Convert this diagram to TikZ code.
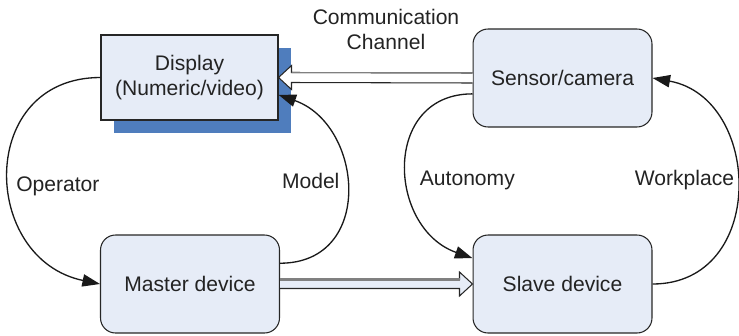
\documentclass[tikz,border=0pt]{standalone}
\usepackage{fontspec}
\setmainfont{Liberation Sans}
\usetikzlibrary{arrows.meta,calc,shadows}
\definecolor{boxfill}{RGB}{230,236,247}
\definecolor{shadowblue}{RGB}{79,125,189}
\definecolor{txtgray}{RGB}{35,35,35}
\tikzset{
  devbox/.style={draw=black!85, line width=0.6pt, fill=boxfill, rounded corners=0.3cm,
    minimum width=3.58cm, minimum height=1.96cm, text=txtgray, font=\fontsize{12}{14.2}\selectfont},
  dispbox/.style={devbox, rounded corners=0pt, minimum width=3.54cm, minimum height=1.7cm, align=center,
    drop shadow={shadow xshift=0.26cm, shadow yshift=-0.26cm, fill=shadowblue, opacity=1}},
  cyclearrow/.style={line width=0.75pt, black!90, -{Triangle[length=10pt,width=7pt]}},
  lbl/.style={text=txtgray, font=\fontsize{12}{14.2}\selectfont},
  hollow/.style={line width=0.6pt, draw=black!85}
}
\begin{document}
\begin{tikzpicture}[x=0.02cm, y=-0.02cm]
\useasboundingbox (0,0) rectangle (739,335);
\node[dispbox] (disp) at (189.5,77.5) {Display\\(Numeric/video)};
\node[devbox] (sensor) at (562.5,78) {Sensor/camera};
\node[devbox] (master) at (190,284) {Master device};
\node[devbox] (slave) at (562.5,284) {Slave device};
\node[lbl, align=center] (chan) at (386,29.5) {Communication\\Channel};

% communication channel
\filldraw[hollow, fill=white] ($(sensor.west)+(0,-5)$) -- ($(disp.east)+(13,-5)$) -- ($(disp.east)+(13,-12)$)
  -- (disp.east) -- ($(disp.east)+(13,12)$) -- ($(disp.east)+(13,5)$) -- ($(sensor.west)+(0,5)$);
\draw[hollow, draw=gray] ($(sensor.west)+(0,-5)$) -- ($(disp.east)+(13,-5)$);
\filldraw[hollow, fill=boxfill] ($(master.east)+(0,-4.5)$) -- ($(slave.west)+(-13,-4.5)$) -- ($(slave.west)+(-13,-12)$)
  -- (slave.west) -- ($(slave.west)+(-13,12)$) -- ($(slave.west)+(-13,4.5)$) -- ($(master.east)+(0,4.5)$);
\draw[line width=1.2pt, gray] ($(master.east)+(0,-4.5)$) -- ($(slave.west)+(-13,-4.5)$);

% loops
\draw[cyclearrow] (disp.west) .. controls +(-124,0) and +(-120,-25) .. (master.west)
  node[lbl, pos=0.55, right] {Operator};
\draw[cyclearrow] (master.13) .. controls +(95,0) and +(85,30) .. (disp.-11)
  node[lbl, pos=0.54, left] {Model};
\draw[cyclearrow] (sensor.190) .. controls +(-91,0) and +(-85,-30) .. (slave.164)
  node[lbl, pos=0.57, right=3pt] {Autonomy};
\draw[cyclearrow] (slave.east) .. controls +(115,0) and +(110,20) .. (sensor.east)
  node[lbl, pos=0.53, left, inner sep=1pt] {Workplace};
\end{tikzpicture}
\end{document}
